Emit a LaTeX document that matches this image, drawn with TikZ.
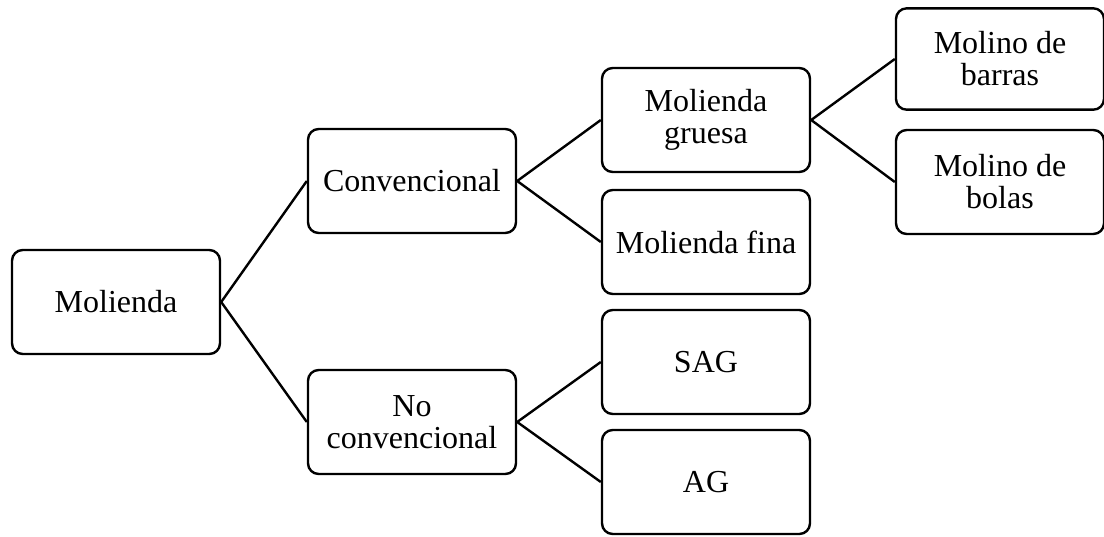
\documentclass[tikz,border=0pt]{standalone}
\usepackage{fontspec}
\setmainfont{Liberation Serif}
\usepackage{tikz}
\usetikzlibrary{positioning}

\begin{document}
\begin{tikzpicture}[x=0.75pt, y=-0.75pt,
    caja/.style={draw, line width=1.8pt, rounded corners=8pt, minimum width=156pt,
        minimum height=78pt, align=center, inner sep=2pt,
        font=\fontsize{24}{24}\selectfont},
    rama/.style={line width=1.8pt}]
    \useasboundingbox (0,0) rectangle (1104,536);
    \node[caja] (mol)    at (116,302) {Molienda};
    \node[caja] (conv)   at (412,181) {Convencional};
    \node[caja] (noconv) at (412,422) {No\\convencional};
    \node[caja] (gruesa) at (706,120) {Molienda\\gruesa};
    \node[caja] (fina)   at (706,242) {Molienda fina};
    \node[caja] (sag)    at (706,362) {SAG};
    \node[caja] (ag)     at (706,482) {AG};
    \node[caja, minimum height=76pt] (barras) at (1000,59)  {Molino de\\barras};
    \node[caja] (bolas)  at (1000,182) {Molino de\\bolas};
    \draw[rama] (mol.east) -- (conv.west);
    \draw[rama] (mol.east) -- (noconv.west);
    \draw[rama] (conv.east) -- (gruesa.west);
    \draw[rama] (conv.east) -- (fina.west);
    \draw[rama] (noconv.east) -- (sag.west);
    \draw[rama] (noconv.east) -- (ag.west);
    \draw[rama] (gruesa.east) -- (barras.west);
    \draw[rama] (gruesa.east) -- (bolas.west);
\end{tikzpicture}
\end{document}
